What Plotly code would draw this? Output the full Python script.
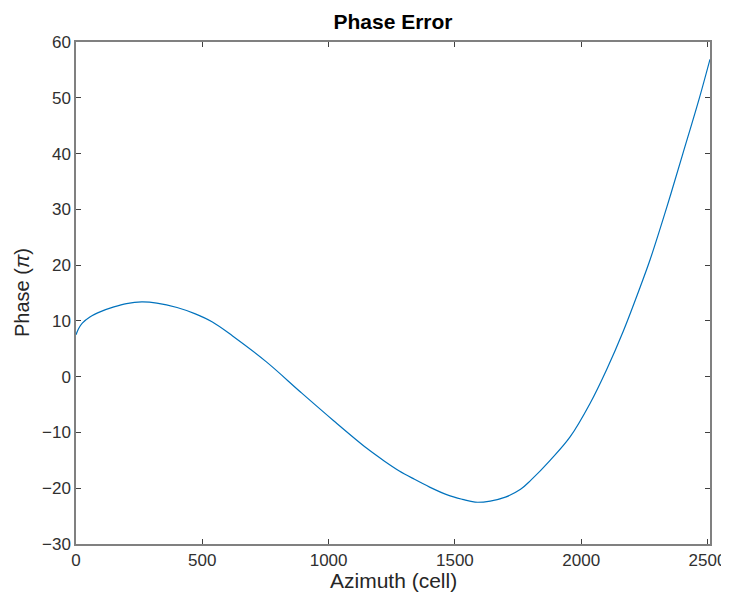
"""
Phase error along azimuth, redrawn with Plotly.
"""

import plotly.graph_objects as go

# values
azimuth = [0, 10, 25, 55, 100, 150, 200, 260, 320, 400, 470, 540, 620, 755,
           890, 1020, 1150, 1220, 1280, 1340, 1400, 1470, 1530, 1580, 1640,
           1700, 1760, 1800, 1877, 1956, 2035, 2101, 2167, 2233, 2273, 2339,
           2402, 2467, 2510]
phase = [7.5, 8.6, 9.6, 10.7, 11.7, 12.5, 13.1, 13.4, 13.2, 12.4, 11.3, 9.8,
         7.3, 2.6, -2.8, -7.9, -12.8, -15.1, -16.9, -18.4, -19.8, -21.2,
         -22.0, -22.5, -22.3, -21.6, -20.2, -18.6, -15.0, -10.8, -4.8, 1.3,
         8.2, 16.0, 21.0, 30.4, 39.9, 49.8, 56.9]

x_ticks = [0, 500, 1000, 1500, 2000, 2500]
y_ticks = [-30, -20, -10, 0, 10, 20, 30, 40, 50, 60]

# the page body adds 8px round the figure
W, H = 721, 587

axis_style = dict(
    showline=True, linecolor="#808080", linewidth=1.5, mirror="ticks",
    ticks="inside", ticklen=5, tickwidth=1, tickcolor="#404040",
    showgrid=False, zeroline=False, automargin=False,
    ticklabeloverflow="allow",
    tickfont=dict(size=17, color="#303030"),
)

fig = go.Figure(go.Scatter(
    x=azimuth, y=phase, mode="lines", line_shape="spline",
    line=dict(color="#0072BD", width=1.2),
))

fig.update_layout(
    width=W, height=H,
    margin=dict(l=68, r=19, t=34, b=51),
    paper_bgcolor="white", plot_bgcolor="white",
    font=dict(family="Liberation Sans, Arial, sans-serif", color="#262626"),
    showlegend=False,
    title=dict(text="<b>Phase Error</b>", x=0.5, xref="paper",
               xanchor="center", y=1 - 14 / H, yanchor="middle",
               font=dict(size=21, color="black")),
    annotations=[
        dict(text="Azimuth (cell)", xref="paper", yref="paper",
             x=0.5, y=-(572 - 536) / (536 - 34), xanchor="center",
             yanchor="middle", showarrow=False,
             font=dict(size=21, color="#262626")),
        dict(text="Phase (<i>π</i>)", xref="paper", yref="paper",
             x=-(68 - 14) / (702 - 68), y=0.5, xanchor="center",
             yanchor="middle", textangle=-90, showarrow=False,
             font=dict(size=20, color="#262626")),
    ],
)
fig.update_xaxes(range=[0, 2510], tickvals=x_ticks, **axis_style)
fig.update_yaxes(range=[-30, 60], tickvals=y_ticks, **axis_style)

fig.write_html("out.html")
